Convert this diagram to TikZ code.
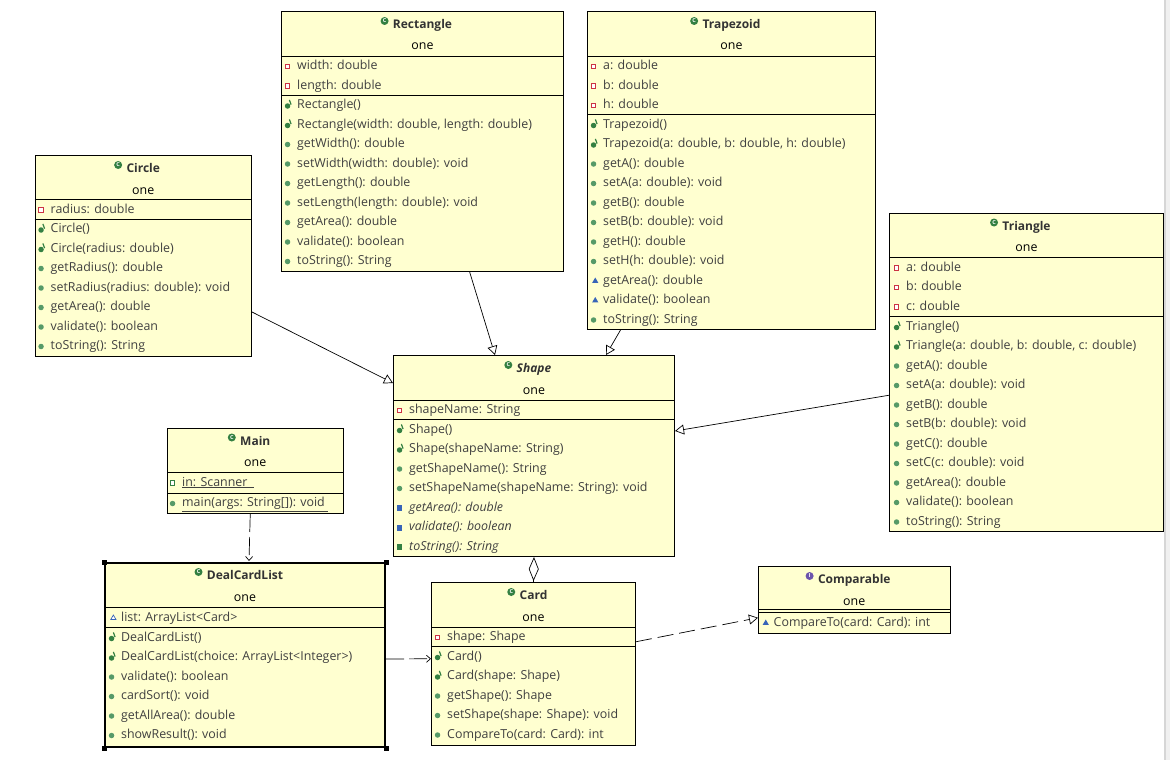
\documentclass[tikz,border=0pt]{standalone}
\usepackage{fontspec}
\setmainfont{Open Sans}
\usetikzlibrary{arrows.meta,shapes.geometric}

\definecolor{boxfill}{RGB}{255,255,208}
\definecolor{ink}{RGB}{64,64,64}
\definecolor{titleink}{RGB}{51,51,51}
\definecolor{privred}{RGB}{204,51,68}
\definecolor{pubgreen}{RGB}{86,154,104}
\definecolor{ctorgreen}{RGB}{52,128,66}
\definecolor{pkgblue}{RGB}{56,100,184}
\definecolor{ifacepurple}{RGB}{108,84,172}
\definecolor{scrollgrey}{RGB}{214,214,214}

\newcommand{\memberfont}{\fontsize{12.4}{14}\selectfont}
\newcommand{\titlefont}{\fontsize{12}{14}\selectfont\bfseries}

\tikzset{
  classbox/.style={draw, fill=boxfill, anchor=north west, inner sep=0pt, line width=1pt},
  title/.style={font=\titlefont, text=titleink, inner sep=0pt, text height=9pt, text depth=2pt},
  classtitle/.style={title, label={[classicon]left:C}},
  ifacetitle/.style={title, label={[classicon, fill=ifacepurple]left:I}},
  classicon/.style={circle, fill=ctorgreen, minimum size=8pt, inner sep=0pt, text=white, font=\fontsize{5.5}{5.5}\selectfont\bfseries, xshift=-4pt, yshift=4pt},
  pkgname/.style={font=\memberfont, text=black, inner sep=0pt, text height=8pt, text depth=2pt},
  member/.style={anchor=west, inner sep=0pt, font=\memberfont, text=ink, text height=8pt, text depth=2pt},
  privicon/.style={rectangle, draw=privred, fill=white, line width=1pt, minimum size=4.5pt, inner sep=0pt, xshift=-7pt},
  pubicon/.style={circle, fill=pubgreen, minimum size=5.5pt, inner sep=0pt, xshift=-6.5pt},
  ctortick/.style={rectangle, fill=ctorgreen, minimum width=1.2pt, minimum height=5pt, inner sep=0pt, xshift=-6pt, yshift=3.5pt, rotate=20},
  pkgicon/.style={regular polygon, regular polygon sides=3, fill=pkgblue, minimum size=7pt, inner sep=0pt, xshift=-5.5pt},
  absicon/.style={rectangle, fill=pkgblue, minimum width=5pt, minimum height=6pt, inner sep=0pt, xshift=-6.5pt},
  field/.style={member, label={[privicon]left:{}}},
  pkgfield/.style={member, label={[pkgicon, fill=white, draw=pkgblue, line width=0.7pt, minimum size=6pt]left:{}}},
  statfield/.style={member, label={[privicon, draw=ctorgreen]left:{}}},
  ctor/.style={member, label={[pubicon, fill=ctorgreen, yshift=-0.5pt]left:{}}, label={[ctortick]left:{}}},
  meth/.style={member, label={[pubicon]left:{}}},
  pkgmeth/.style={member, label={[pkgicon]left:{}}},
  absmeth/.style={member, font=\memberfont\itshape, label={[absicon]left:{}}},
  absgreen/.style={member, font=\memberfont\itshape, label={[absicon, fill=ctorgreen]left:{}}},
  inherit/.style={-{Triangle[open, length=9pt, width=10pt]}, line width=0.7pt},
  realize/.style={inherit, dash pattern=on 16pt off 6pt},
  depend/.style={-{Straight Barb[length=4pt, width=7pt]}, line width=0.7pt, dash pattern=on 18pt off 5pt},
  aggreg/.style={{Diamond[open, length=24pt, width=10pt]}-, line width=0.7pt}
}

\begin{document}
\begin{tikzpicture}[x={(1pt,0)}, y={(0,-1pt)}]
  \useasboundingbox (0,0) rectangle (1170,760);
  \fill[white] (0,0) rectangle (1170,760);
  \fill[black!6] (1164,0) rectangle (1170,760);
  \draw[scrollgrey, line width=1.5pt] (1165,0) -- (1165,760);

  % Rectangle
  \node[classbox, minimum width=282pt, minimum height=259.5pt] (rect) at (281,11) {};
  \path (rect.north |- 0,25) node[classtitle] (rectT) {Rectangle}
        (rect.north |- 0,47) node[pkgname] (rectP) {one};
  \draw (rect.west |- 0,56) -- (rect.east |- 0,56)
        (rect.west |- 0,95) -- (rect.east |- 0,95);
  \path (297,66.5) node[field] (rectA1) {width: double}
        (297,86) node[field] (rectA2) {length: double}
        (297,105.5) node[ctor] (rectM1) {Rectangle()}
        (297,125) node[ctor] (rectM2) {Rectangle(width: double, length: double)}
        (297,144.5) node[meth] (rectM3) {getWidth(): double}
        (297,164) node[meth] (rectM4) {setWidth(width: double): void}
        (297,183.5) node[meth] (rectM5) {getLength(): double}
        (297,203) node[meth] (rectM6) {setLength(length: double): void}
        (297,222.5) node[meth] (rectM7) {getArea(): double}
        (297,242) node[meth] (rectM8) {validate(): boolean}
        (297,261.5) node[meth] (rectM9) {toString(): String};

  % Trapezoid
  \node[classbox, minimum width=288pt, minimum height=318pt] (trap) at (587,11) {};
  \path (trap.north |- 0,25) node[classtitle] (trapT) {Trapezoid}
        (trap.north |- 0,47) node[pkgname] (trapP) {one};
  \draw (trap.west |- 0,56) -- (trap.east |- 0,56)
        (trap.west |- 0,114.5) -- (trap.east |- 0,114.5);
  \path (603,66.5) node[field] (trapA1) {a: double}
        (603,86) node[field] (trapA2) {b: double}
        (603,105.5) node[field] (trapA3) {h: double}
        (603,125) node[ctor] (trapM1) {Trapezoid()}
        (603,144.5) node[ctor] (trapM2) {Trapezoid(a: double, b: double, h: double)}
        (603,164) node[meth] (trapM3) {getA(): double}
        (603,183.5) node[meth] (trapM4) {setA(a: double): void}
        (603,203) node[meth] (trapM5) {getB(): double}
        (603,222.5) node[meth] (trapM6) {setB(b: double): void}
        (603,242) node[meth] (trapM7) {getH(): double}
        (603,261.5) node[meth] (trapM8) {setH(h: double): void}
        (603,281) node[pkgmeth] (trapM9) {getArea(): double}
        (603,300.5) node[pkgmeth] (trapM10) {validate(): boolean}
        (603,320) node[meth] (trapM11) {toString(): String};

  % Circle
  \node[classbox, minimum width=216.5pt, minimum height=201pt] (circ) at (34.5,155) {};
  \path (circ.north |- 0,169) node[classtitle] (circT) {Circle}
        (circ.north |- 0,191) node[pkgname] (circP) {one};
  \draw (circ.west |- 0,199.5) -- (circ.east |- 0,199.5)
        (circ.west |- 0,219) -- (circ.east |- 0,219);
  \path (50.5,210) node[field] (circA1) {radius: double}
        (50.5,229.5) node[ctor] (circM1) {Circle()}
        (50.5,249) node[ctor] (circM2) {Circle(radius: double)}
        (50.5,268.5) node[meth] (circM3) {getRadius(): double}
        (50.5,288) node[meth] (circM4) {setRadius(radius: double): void}
        (50.5,307.5) node[meth] (circM5) {getArea(): double}
        (50.5,327) node[meth] (circM6) {validate(): boolean}
        (50.5,346.5) node[meth] (circM7) {toString(): String};

  % Triangle
  \node[classbox, minimum width=274pt, minimum height=318.5pt] (tri) at (889,212.5) {};
  \path (tri.north |- 0,226.5) node[classtitle] (triT) {Triangle}
        (tri.north |- 0,248.5) node[pkgname] (triP) {one};
  \draw (tri.west |- 0,257.5) -- (tri.east |- 0,257.5)
        (tri.west |- 0,316.5) -- (tri.east |- 0,316.5);
  \path (906,268) node[field] (triA1) {a: double}
        (906,287.5) node[field] (triA2) {b: double}
        (906,307) node[field] (triA3) {c: double}
        (906,327) node[ctor] (triM1) {Triangle()}
        (906,346.5) node[ctor] (triM2) {Triangle(a: double, b: double, c: double)}
        (906,366) node[meth] (triM3) {getA(): double}
        (906,385.5) node[meth] (triM4) {setA(a: double): void}
        (906,405) node[meth] (triM5) {getB(): double}
        (906,424.5) node[meth] (triM6) {setB(b: double): void}
        (906,444) node[meth] (triM7) {getC(): double}
        (906,463.5) node[meth] (triM8) {setC(c: double): void}
        (906,483) node[meth] (triM9) {getArea(): double}
        (906,502.5) node[meth] (triM10) {validate(): boolean}
        (906,522) node[meth] (triM11) {toString(): String};

  % Shape
  \node[classbox, minimum width=281pt, minimum height=201pt] (shape) at (393,355) {};
  \path (shape.north |- 0,369) node[classtitle, font=\titlefont\itshape] (shapeT) {Shape}
        (shape.north |- 0,391) node[pkgname] (shapeP) {one};
  \draw (shape.west |- 0,400) -- (shape.east |- 0,400)
        (shape.west |- 0,419.5) -- (shape.east |- 0,419.5);
  \path (409,410.5) node[field] (shapeA1) {shapeName: String}
        (409,430) node[ctor] (shapeM1) {Shape()}
        (409,449.5) node[ctor] (shapeM2) {Shape(shapeName: String)}
        (409,469) node[meth] (shapeM3) {getShapeName(): String}
        (409,488.5) node[meth] (shapeM4) {setShapeName(shapeName: String): void}
        (409,508) node[absmeth] (shapeM5) {getArea(): double}
        (409,527.5) node[absmeth] (shapeM6) {validate(): boolean}
        (409,547) node[absgreen] (shapeM7) {toString(): String};

  % Main
  \node[classbox, minimum width=175.5pt, minimum height=85.5pt] (main) at (167,427.5) {};
  \path (main.north |- 0,441.5) node[classtitle] (mainT) {Main}
        (main.north |- 0,463.5) node[pkgname] (mainP) {one};
  \draw (main.west |- 0,472.5) -- (main.east |- 0,472.5)
        (main.west |- 0,493) -- (main.east |- 0,493);
  \path (182,483) node[statfield] (mainA1) {\underline{in: Scanner\hspace{7pt}}}
        (182,503.5) node[meth] (mainM1) {\underline{main(args: String[]): void\hspace{3pt}}};

  % DealCardList
  \node[classbox, line width=2pt, minimum width=280pt, minimum height=184pt] (deal) at (104,562) {};
  \foreach \c in {north west, north east, south west, south east}
    \fill (deal.\c) +(-2.5pt,-2.5pt) rectangle +(2.5pt,2.5pt);
  \path (deal.north |- 0,576) node[classtitle] (dealT) {DealCardList}
        (deal.north |- 0,598) node[pkgname] (dealP) {one};
  \draw (deal.west |- 0,607.5) -- (deal.east |- 0,607.5)
        (deal.west |- 0,627.5) -- (deal.east |- 0,627.5);
  \path (121,618) node[pkgfield] (dealA1) {list: ArrayList<Card>}
        (121,638) node[ctor] (dealM1) {DealCardList()}
        (121,657.5) node[ctor] (dealM2) {DealCardList(choice: ArrayList<Integer>)}
        (121,677) node[meth] (dealM3) {validate(): boolean}
        (121,696.5) node[meth] (dealM4) {cardSort(): void}
        (121,716) node[meth] (dealM5) {getAllArea(): double}
        (121,735.5) node[meth] (dealM6) {showResult(): void};

  % Card
  \node[classbox, minimum width=204pt, minimum height=162.5pt] (card) at (431,582) {};
  \path (card.north |- 0,596) node[classtitle] (cardT) {Card}
        (card.north |- 0,618) node[pkgname] (cardP) {one};
  \draw (card.west |- 0,627) -- (card.east |- 0,627)
        (card.west |- 0,646.5) -- (card.east |- 0,646.5);
  \path (447,637.5) node[field] (cardA1) {shape: Shape}
        (447,657) node[ctor] (cardM1) {Card()}
        (447,676.5) node[ctor] (cardM2) {Card(shape: Shape)}
        (447,696) node[meth] (cardM3) {getShape(): Shape}
        (447,715.5) node[meth] (cardM4) {setShape(shape: Shape): void}
        (447,735) node[meth] (cardM5) {CompareTo(card: Card): int};

  % Comparable
  \node[classbox, minimum width=191.5pt, minimum height=66.5pt] (comp) at (758,566) {};
  \path (comp.north |- 0,580) node[ifacetitle] (compT) {Comparable}
        (comp.north |- 0,602) node[pkgname] (compP) {one};
  \draw (comp.west |- 0,609.5) -- (comp.east |- 0,609.5)
        (comp.west |- 0,612.5) -- (comp.east |- 0,612.5);
  \path (773.5,623) node[pkgmeth] (compM1) {CompareTo(card: Card): int};

  % connectors
  \draw[inherit] ([xshift=47pt]rect.south) -- ([xshift=-39pt]shape.north);
  \draw[inherit] ([xshift=-111pt]trap.south) -- ([xshift=72pt]shape.north);
  \draw[inherit] ([yshift=-56pt]circ.east) -- ([yshift=73pt]shape.west);
  \draw[inherit] ([yshift=-23pt]tri.west) -- ([yshift=25pt]shape.east);
  \draw[aggreg] (shape.south) -- (card.north);
  \draw[depend] ([xshift=-5pt]main.south) -- ([xshift=4pt,yshift=1pt]deal.north);
  \draw[depend] ([yshift=-4pt]deal.east) -- ([yshift=5pt]card.west);
  \draw[realize] ([yshift=22pt]card.east) -- ([yshift=-18pt]comp.west);
\end{tikzpicture}
\end{document}
